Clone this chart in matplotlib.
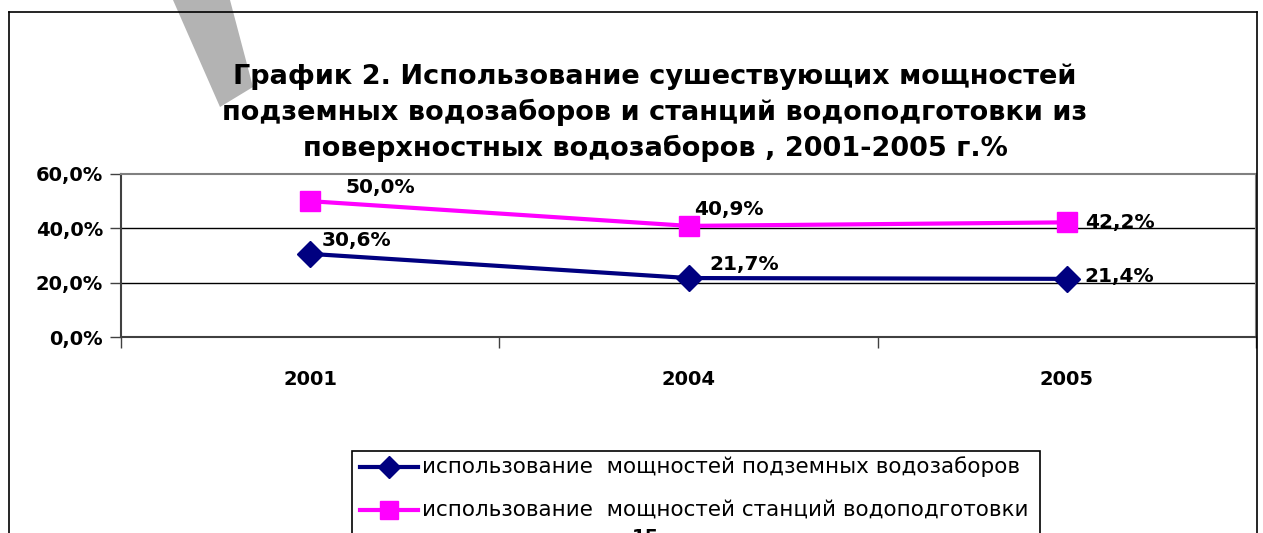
import matplotlib
matplotlib.use("Agg")
import matplotlib.pyplot as plt
from matplotlib.lines import Line2D
from matplotlib.patches import Polygon, Rectangle

plt.rcParams['font.family'] = ['DejaVu Sans']

years = ["2001", "2004", "2005"]
underground = [0.306, 0.217, 0.214]
treatment = [0.500, 0.409, 0.422]
underground_labels = ["30,6%", "21,7%", "21,4%"]
treatment_labels = ["50,0%", "40,9%", "42,2%"]
y_ticks = [0.0, 0.2, 0.4, 0.6]
y_tick_labels = ["0,0%", "20,0%", "40,0%", "60,0%"]
series_names = ["использование  мощностей подземных водозаборов",
                "использование  мощностей станций водоподготовки"]
title = ("График 2. Использование сушествующих мощностей\n"
         "подземных водозаборов и станций водоподготовки из\n"
         "поверхностных водозаборов , 2001-2005 г.%")

W, H = 1263, 533
fig = plt.figure(figsize=(W / 100, H / 100), dpi=100)

def fx(px):
    return px / W

def fy(py):
    return 1 - py / H

# grey diagonal strip in the top left corner
fig.patches.append(Polygon([(fx(173), fy(0)), (fx(230), fy(0)), (fx(253), fy(87)),
                            (fx(220), fy(107))], closed=True, transform=fig.transFigure,
                           facecolor="#b3b3b3", edgecolor="none", zorder=0))

# outer frame
for xs, ys in [((9, 9), (12, 540)), ((9, 1257), (12, 12)), ((1257, 1257), (12, 540))]:
    fig.add_artist(Line2D([fx(x) for x in xs], [fy(y) for y in ys], color="black", lw=1.2))

fig.text(fx(655), fy(113), title, ha="center", va="center", fontsize=19.5,
         fontweight="bold", linespacing=1.42)

ax = fig.add_axes([fx(121), fy(337), fx(1256) - fx(121), fy(174) - fy(337)])
x = range(len(years))
ax.plot(x, underground, color="#000080", lw=3, marker="D", markersize=13, zorder=3)
ax.plot(x, treatment, color="#FF00FF", lw=3, marker="s", markersize=15, zorder=3)

ax.set_xlim(-0.5, 2.5)
ax.set_ylim(0, 0.6)
ax.set_yticks(y_ticks)
ax.set_yticklabels(y_tick_labels, fontsize=14, fontweight="bold")
ax.set_xticks(list(x))
ax.set_xticklabels(years, fontsize=14, fontweight="bold")
ax.set_xticks([-0.5, 0.5, 1.5, 2.5], minor=True)
ax.tick_params(axis="x", which="major", length=0, pad=24)
ax.tick_params(axis="x", which="minor", length=8, width=1, color="#404040")
ax.tick_params(axis="y", length=8, width=1, pad=5, color="#404040")
for v in y_ticks[1:3]:
    ax.axhline(v, color="black", lw=1, zorder=1)
ax.spines["top"].set_color("#808080")
ax.spines["right"].set_color("#808080")
ax.spines["left"].set_color("#404040")
ax.spines["bottom"].set_color("#404040")
for s in ax.spines.values():
    s.set_linewidth(1.5)

# label offsets in pixels (x right, y up) from each point
u_off = [(12, 13), (21, 14), (18, 2)]
t_off = [(35, 14), (6, 16), (18, 0)]
for i in x:
    ax.annotate(underground_labels[i], (i, underground[i]), xytext=u_off[i],
                textcoords="offset pixels", fontsize=14.5, fontweight="bold",
                ha="left", va="center")
    ax.annotate(treatment_labels[i], (i, treatment[i]), xytext=t_off[i],
                textcoords="offset pixels", fontsize=14.5, fontweight="bold",
                ha="left", va="center")

# legend box
fig.patches.append(Rectangle((fx(352), fy(545)), fx(1040) - fx(352), fy(451) - fy(545),
                             transform=fig.transFigure, facecolor="white",
                             edgecolor="black", lw=1.2, zorder=1))
for yy, col, mk, ms, name in [(467, "#000080", "D", 11, series_names[0]),
                              (510, "#FF00FF", "s", 13, series_names[1])]:
    fig.add_artist(Line2D([fx(360), fx(418)], [fy(yy), fy(yy)], color=col, lw=3,
                          zorder=2))
    fig.add_artist(Line2D([fx(389)], [fy(yy)], color=col, marker=mk, markersize=ms,
                          lw=0, zorder=2))
    fig.text(fx(422), fy(yy), name, ha="left", va="center", fontsize=15.5)

# page number, mostly cut off
fig.text(fx(645), fy(528), "15", ha="center", va="top", fontsize=14, fontweight="bold")

fig.savefig("out.png", dpi=100)
